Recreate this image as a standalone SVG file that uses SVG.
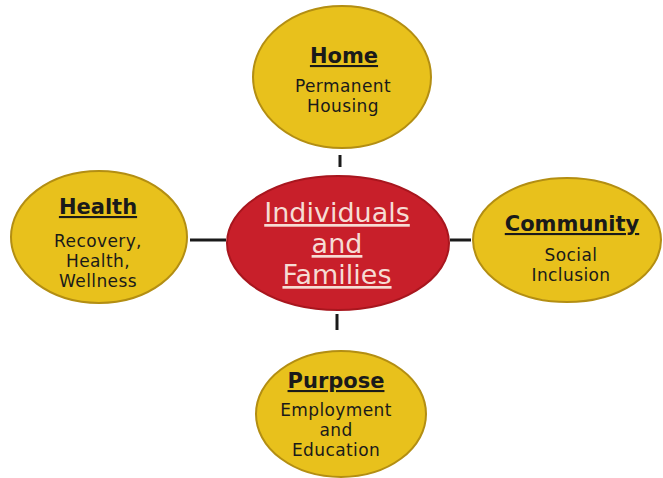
<svg xmlns="http://www.w3.org/2000/svg" width="663" height="478" viewBox="0 0 663 478">
<style>
.sat{fill:#e8c11c;stroke:#b38e12;stroke-width:2}
.hub{fill:#c81f2a;stroke:#a8161e;stroke-width:2}
.t{font-family:"DejaVu Sans",Verdana,sans-serif;text-anchor:middle;fill:#1a1a1a}
.h{font-weight:bold;font-size:21px;text-decoration:underline}
.b{font-size:17px;letter-spacing:0.4px}
.c{font-family:"DejaVu Sans",Verdana,sans-serif;text-anchor:middle;fill:#f6dcd4;font-size:27px;text-decoration:underline}
.ln{stroke:#1a1a1a;stroke-width:3}
</style>
<rect width="663" height="478" fill="#ffffff"/>
<g id="connectors">
<line class="ln" x1="340" y1="155" x2="340" y2="167"/>
<line class="ln" x1="190" y1="240" x2="226" y2="240"/>
<line class="ln" x1="450" y1="240" x2="471" y2="240"/>
<line class="ln" x1="337" y1="314" x2="337" y2="330"/>
</g>
<g id="home">
<ellipse class="sat" cx="342" cy="77" rx="89" ry="71"/>
<text class="t h" x="344" y="63">Home</text>
<text class="t b" x="343" y="92">Permanent</text>
<text class="t b" x="343" y="112">Housing</text>
</g>
<g id="center">
<ellipse class="hub" cx="338" cy="243" rx="111" ry="67"/>
<text class="c" x="337" y="222">Individuals</text>
<text class="c" x="337" y="253">and</text>
<text class="c" x="337" y="284">Families</text>
</g>
<g id="health">
<ellipse class="sat" cx="99" cy="237" rx="88" ry="66"/>
<text class="t h" x="98" y="214">Health</text>
<text class="t b" x="98" y="247">Recovery,</text>
<text class="t b" x="98" y="267">Health,</text>
<text class="t b" x="98" y="287">Wellness</text>
</g>
<g id="community">
<ellipse class="sat" cx="567" cy="240" rx="94" ry="62"/>
<text class="t h" x="572" y="231">Community</text>
<text class="t b" x="571" y="261">Social</text>
<text class="t b" x="571" y="281">Inclusion</text>
</g>
<g id="purpose">
<ellipse class="sat" cx="341" cy="414" rx="85" ry="63"/>
<text class="t h" x="336" y="388">Purpose</text>
<text class="t b" x="336" y="416">Employment</text>
<text class="t b" x="336" y="436">and</text>
<text class="t b" x="336" y="456">Education</text>
</g>
</svg>
